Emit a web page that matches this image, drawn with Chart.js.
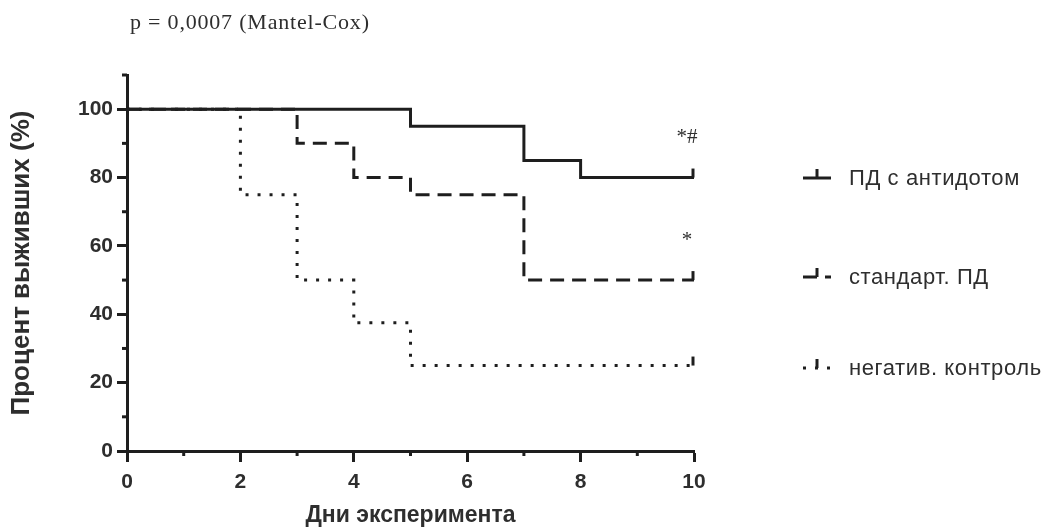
<!DOCTYPE html>
<html><head><meta charset="utf-8">
<script src="https://cdn.jsdelivr.net/npm/chart.js@4/dist/chart.umd.min.js"></script>
<style>html,body{margin:0;padding:0;background:#fff;}#wrap{width:1048px;height:529px;}</style>
</head><body><div id="wrap"><canvas id="c" width="1048" height="529"></canvas></div>
<script>
const seriesNames = ['ПД с антидотом', 'стандарт. ПД', 'негатив. контроль'];
const antidoteDays = [0, 5, 7, 8, 10];
const antidoteSurv = [100, 95, 85, 80, 80];
const standardDays = [0, 3, 4, 5, 7, 10];
const standardSurv = [100, 90, 80, 75, 50, 50];
const negativeDays = [0, 2, 3, 4, 5, 10];
const negativeSurv = [100, 75, 50, 37.5, 25, 25];
const markLabels = ['*#', '*', ''];
const xTickLabels = [0, 2, 4, 6, 8, 10];
const yTickLabels = [0, 20, 40, 60, 80, 100];
const titleText = 'p = 0,0007 (Mantel-Cox)';
const xTitle = 'Дни эксперимента';
const yTitle = 'Процент выживших (%)';

const INK = '#1e1e1e';
const TXT = '#2e2e2e';
const SANS = '"Liberation Sans", Arial, sans-serif';
const dashes = [[], [14, 8], [3, 9]];

function pts(days, surv) { return days.map((d, i) => ({ x: d, y: surv[i] })); }

const datasets = [
  { label: seriesNames[0], data: pts(antidoteDays, antidoteSurv) },
  { label: seriesNames[1], data: pts(standardDays, standardSurv) },
  { label: seriesNames[2], data: pts(negativeDays, negativeSurv) }
].map((d, i) => Object.assign(d, {
  stepped: 'before', borderColor: INK, borderWidth: 3, borderDash: dashes[i],
  borderCapStyle: 'butt', borderJoinStyle: 'miter', pointRadius: 0, fill: false, tension: 0
}));

const extras = {
  id: 'extras',
  afterDraw(chart) {
    const ctx = chart.ctx, xs = chart.scales.x, ys = chart.scales.y;
    const area = chart.chartArea;
    ctx.save();
    // minor ticks
    ctx.strokeStyle = INK; ctx.lineWidth = 3; ctx.setLineDash([]);
    xs.ticks.forEach(t => {
      if (!xTickLabels.includes(t.value)) {
        const px = xs.getPixelForValue(t.value);
        ctx.beginPath(); ctx.moveTo(px, area.bottom); ctx.lineTo(px, area.bottom + 5); ctx.stroke();
      }
    });
    ys.ticks.forEach(t => {
      if (!yTickLabels.includes(t.value)) {
        const py = ys.getPixelForValue(t.value);
        ctx.beginPath(); ctx.moveTo(area.left, py); ctx.lineTo(area.left - 5, py); ctx.stroke();
      }
    });
    // censor ticks + annotations
    chart.data.datasets.forEach((ds, i) => {
      const last = ds.data[ds.data.length - 1];
      const px = xs.getPixelForValue(last.x), py = ys.getPixelForValue(last.y);
      ctx.lineWidth = 3;
      ctx.beginPath(); ctx.moveTo(px - 1, py); ctx.lineTo(px - 1, py - 9); ctx.stroke();
      if (markLabels[i]) {
        ctx.fillStyle = TXT; ctx.font = '21px "Liberation Serif", serif';
        ctx.textAlign = 'center'; ctx.textBaseline = 'middle';
        ctx.fillText(markLabels[i], px - 7, py - 40);
      }
    });
    // title
    ctx.fillStyle = TXT; ctx.font = '22px "Liberation Serif", serif';
    ctx.letterSpacing = '0.8px';
    ctx.textAlign = 'left'; ctx.textBaseline = 'alphabetic';
    ctx.fillText(titleText, 130, 29);
    // legend
    const legY = [178, 277, 368];
    chart.data.datasets.forEach((ds, i) => {
      const y = legY[i];
      ctx.strokeStyle = INK; ctx.lineWidth = 3; ctx.setLineDash(ds.borderDash);
      ctx.beginPath(); ctx.moveTo(803, y); ctx.lineTo(831, y); ctx.stroke();
      ctx.setLineDash([]);
      ctx.beginPath(); ctx.moveTo(817, y); ctx.lineTo(817, y - 9); ctx.stroke();
      ctx.fillStyle = TXT; ctx.font = '22px ' + SANS;
      ctx.letterSpacing = '0.6px';
      ctx.textAlign = 'left'; ctx.textBaseline = 'middle';
      ctx.fillText(ds.label, 849, y + 1);
    });
    ctx.restore();
  }
};

new Chart(document.getElementById('c'), {
  type: 'line',
  data: { datasets },
  options: {
    responsive: false, animation: false,
    layout: { padding: { left: 0, right: 354, top: 75, bottom: 0 } },
    plugins: { legend: { display: false }, tooltip: { enabled: false } },
    scales: {
      x: {
        type: 'linear', min: 0, max: 10,
        afterFit: s => { s.height = 78; },
        border: { display: true, width: 3, color: INK },
        grid: { drawOnChartArea: false, drawTicks: true, tickLength: 11, tickWidth: 3,
          tickColor: c => xTickLabels.includes(c.tick.value) ? INK : 'rgba(0,0,0,0)' },
        ticks: { stepSize: 1, autoSkip: false, maxRotation: 0, padding: 8, color: TXT,
          font: { family: SANS, size: 21, weight: 'bold' },
          callback: v => xTickLabels.includes(v) ? String(v) : '' },
        title: { display: true, text: xTitle, color: TXT, padding: { top: 4, bottom: 0 },
          font: { family: SANS, size: 23, weight: 'bold' } }
      },
      y: {
        type: 'linear', min: 0, max: 110,
        afterFit: s => { s.width = 127; },
        border: { display: true, width: 3, color: INK },
        grid: { drawOnChartArea: false, drawTicks: true, tickLength: 10, tickWidth: 3,
          tickColor: c => yTickLabels.includes(c.tick.value) ? INK : 'rgba(0,0,0,0)' },
        ticks: { stepSize: 10, autoSkip: false, padding: 4, color: TXT,
          font: { family: SANS, size: 21, weight: 'bold' },
          callback: v => yTickLabels.includes(v) ? String(v) : '' },
        title: { display: true, text: yTitle, color: TXT, padding: { top: 6, bottom: 0 },
          font: { family: SANS, size: 26, weight: 'bold' } }
      }
    }
  },
  plugins: [extras]
});
</script></body></html>
